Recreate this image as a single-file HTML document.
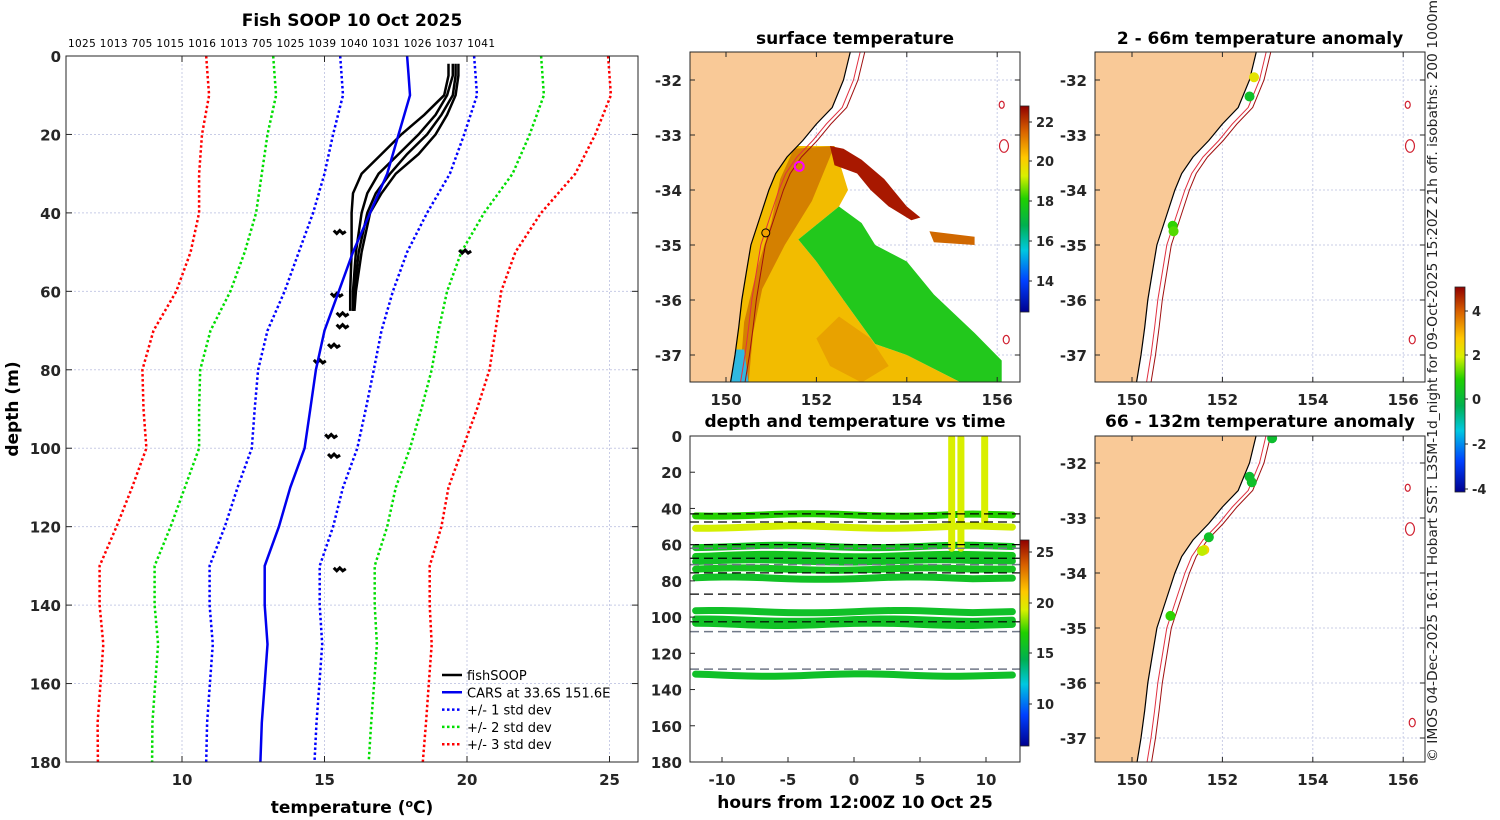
<!DOCTYPE html>
<html><head><meta charset="utf-8"><style>
html,body{margin:0;padding:0;background:#fff}
svg{display:block;font-family:"DejaVu Sans","Liberation Sans",sans-serif}
.t{font-weight:bold;font-size:15px;fill:#262626}
.ti{font-weight:bold;font-size:17px;fill:#000}
</style></head><body>
<svg id="fig" width="1500" height="820" viewBox="0 0 1500 820" xmlns="http://www.w3.org/2000/svg">
<defs>
<linearGradient id="jet" x1="0" y1="1" x2="0" y2="0">
<stop offset="0" stop-color="#00008f"/><stop offset="0.15" stop-color="#0040ff"/><stop offset="0.3" stop-color="#00c8e0"/><stop offset="0.42" stop-color="#00b050"/><stop offset="0.55" stop-color="#20d000"/><stop offset="0.66" stop-color="#d8f000"/><stop offset="0.75" stop-color="#ffc800"/><stop offset="0.88" stop-color="#d86000"/><stop offset="1" stop-color="#900000"/>
</linearGradient>
<clipPath id="cm"><rect x="690" y="52" width="330" height="330"/></clipPath>
<clipPath id="cr1"><rect x="1095" y="52" width="330" height="330"/></clipPath>
<clipPath id="cr2"><rect x="1095" y="436" width="330" height="326"/></clipPath>
<clipPath id="ct"><rect x="690" y="436" width="330" height="326"/></clipPath>
</defs>
<g id="root"></g>
<text transform="translate(1437,762) rotate(-90)" font-size="13" fill="#222" textLength="762" lengthAdjust="spacingAndGlyphs">© IMOS 04-Dec-2025 16:11 Hobart SST: L3SM-1d_night for 09-Oct-2025 15:20Z 21h off. isobaths: 200  1000m</text>
</svg>
<script>
// ---------- profile data ----------
const carsDepth=[0,5,10,20,30,40,50,60,70,80,90,100,110,120,130,140,150,160,170,180];
const carsMean=[17.9,17.95,18.0,17.6,17.2,16.6,16.0,15.5,15.0,14.7,14.5,14.3,13.8,13.4,12.9,12.9,13.0,12.9,12.8,12.75];
const carsSd=[2.35,2.35,2.35,2.3,2.2,2.0,1.9,1.9,2.0,2.03,1.95,1.85,1.85,1.9,1.93,1.93,1.92,1.92,1.92,1.9];
const fishDepth=[2,5,10,15,20,25,30,35,40,50,60,65];
const fishT1=[19.35,19.35,19.2,18.5,17.7,17.0,16.3,16.0,15.95,15.95,15.9,15.9];
const fishT2=[19.5,19.5,19.3,18.9,18.3,17.6,16.9,16.5,16.3,16.1,16.0,16.0];
const fishT3=[19.6,19.6,19.5,19.1,18.6,17.9,17.3,16.8,16.5,16.2,16.05,16.0];
const fishT4=[19.7,19.7,19.6,19.3,18.9,18.3,17.5,17.0,16.6,16.3,16.1,16.05];
const blobT=[15.5,19.9,15.4,15.6,15.6,15.3,14.8,15.2,15.3,15.5];
const blobD=[45,50,61,66,69,74,78,97,102,131];
const tempTicks=[10,15,20,25];
const depthTicks=[0,20,40,60,80,100,120,140,160,180];
const topLabels=["1025","1013","705","1015","1016","1013","705","1025","1039","1040","1031","1026","1037","1041"];
// ---------- time-depth data ----------
const bandDepth=[43.6,50.3,61,66,69,73.5,78.5,97,101.7,104,132];
const bandTemp=[17.5,19.5,16.5,16.5,16.3,16.5,16.3,16.2,16.2,16.3,16.2];
const dashBlack=[43,47.5,60,67.5,75.6,87.3,102.6];
const dashGray=[62,71,108,128.7];
const vertHour=[7.4,8.1,9.9];
const vertBottom=[62,62,47];
const hourTicks=[-10,-5,0,5,10];
// ---------- map data ----------
const coastLon=[152.75,152.6,152.35,152.0,151.7,151.35,151.1,150.95,150.75,150.55,150.45,150.35,150.28,150.2,150.1];
const coastLat=[-31.49,-32,-32.5,-32.8,-33.1,-33.4,-33.7,-34.0,-34.5,-35.0,-35.5,-36.0,-36.5,-37.0,-37.5];
const lonTicks=[150,152,154,156];
const latTicks=[-32,-33,-34,-35,-36,-37];
const dotLon1=[152.7,152.6,150.9,150.92];
const dotLat1=[-31.95,-32.3,-34.65,-34.75];
const dotVal1=[2.2,0.3,1.0,1.2];
const dotLon2=[153.1,152.6,152.65,151.7,151.6,151.55,150.85];
const dotLat2=[-31.55,-32.25,-32.35,-33.35,-33.58,-33.6,-34.78];
const dotVal2=[0.2,0.2,0.3,0.3,2.5,1.8,1.0];

const NS="http://www.w3.org/2000/svg";
const root=document.getElementById('root');
function el(tag,attrs,parent,txt){const e=document.createElementNS(NS,tag);for(const k in attrs)e.setAttribute(k,attrs[k]);if(txt!==undefined)e.textContent=txt;(parent||root).appendChild(e);return e;}
function jet(f){f=Math.max(0,Math.min(1,f));const st=[[0,[0,0,143]],[0.15,[0,64,255]],[0.3,[0,200,224]],[0.42,[0,176,80]],[0.55,[32,208,0]],[0.66,[216,240,0]],[0.75,[255,200,0]],[0.88,[216,96,0]],[1,[144,0,0]]];for(let i=1;i<st.length;i++){if(f<=st[i][0]){const a=st[i-1],b=st[i],t=(f-a[0])/(b[0]-a[0]);return 'rgb('+a[1].map((v,j)=>Math.round(v+(b[1][j]-v)*t)).join(',')+')';}}return 'rgb(144,0,0)';}

// ===== Left panel =====
const L={x0:66,x1:638,y0:56,y1:762};
const tx=t=>-103+t*28.5, dy=d=>L.y0+d*(L.y1-L.y0)/180;
const gL=el('g',{});  
tempTicks.forEach(t=>{const l=el('line',{x1:tx(t),x2:tx(t),y1:L.y0,y2:L.y1,stroke:'#c8cce6','stroke-dasharray':'2,2','stroke-width':1},gL);});
depthTicks.forEach(d=>{const l=el('line',{x1:L.x0,x2:L.x1,y1:dy(d),y2:dy(d),stroke:'#c8cce6','stroke-dasharray':'2,2','stroke-width':1},gL);});
function profPath(dep,vals){return dep.map((d,i)=>(i?'L':'M')+tx(vals[i]).toFixed(1)+','+dy(d).toFixed(1)).join('');}
const sdCols=['#0000ff','#00dd00','#ff0000'];
[3,2,1].forEach(k=>{[-1,1].forEach(s=>{const v=carsMean.map((m,i)=>m+s*k*carsSd[i]);const p=el('path',{d:profPath(carsDepth,v),fill:'none',stroke:sdCols[k-1],'stroke-width':2.5,'stroke-dasharray':'2.5,2.5'},gL);});});
[fishT1,fishT2,fishT3,fishT4].forEach((f,i)=>{const p=el('path',{d:profPath(fishDepth,f),fill:'none',stroke:'#000','stroke-width':2.5},gL);});
blobT.forEach((t,i)=>{const x=tx(t),y=dy(blobD[i]);const p=el('path',{d:`M${x-5},${y-2}l3,3l3,-3l3,3l3,-2`,fill:'none',stroke:'#000','stroke-width':3},gL);});
{const p=el('path',{d:profPath(carsDepth,carsMean),fill:'none',stroke:'#0000ee','stroke-width':2.5},gL);}
{const r=el('rect',{x:L.x0,y:L.y0,width:L.x1-L.x0,height:L.y1-L.y0,fill:'none',stroke:'#262626','stroke-width':1},gL);}
tempTicks.forEach(t=>{el('line',{x1:tx(t),x2:tx(t),y1:L.y1,y2:L.y1-6,stroke:'#262626'},gL);el('line',{x1:tx(t),x2:tx(t),y1:L.y0,y2:L.y0+6,stroke:'#262626'},gL);const e=el('text',{x:tx(t),y:L.y1+23,'text-anchor':'middle',class:'t'},gL,String(t));});
depthTicks.forEach(d=>{el('line',{x1:L.x0,x2:L.x0+6,y1:dy(d),y2:dy(d),stroke:'#262626'},gL);el('line',{x1:L.x1,x2:L.x1-6,y1:dy(d),y2:dy(d),stroke:'#262626'},gL);const e=el('text',{x:L.x0-5,y:dy(d)+6,'text-anchor':'end',class:'t'},gL,String(d));});
{const e=el('text',{x:68,y:47,'font-size':10.5,fill:'#000',textLength:427,lengthAdjust:'spacing'},gL,topLabels.join(' '));}
{const e=el('text',{x:352,y:26,'text-anchor':'middle',class:'ti'},gL,'Fish SOOP 10 Oct 2025');}
{const e=el('text',{x:352,y:813,'text-anchor':'middle',class:'ti'},gL);e.innerHTML='temperature (<tspan dy="-6" font-size="11">o</tspan><tspan dy="6">C)</tspan>';}
{const e=el('text',{transform:'translate(18,409) rotate(-90)','text-anchor':'middle',class:'ti'},gL,'depth (m)');}
const legItems=[['fishSOOP','#000',''],['CARS at 33.6S 151.6E','#0000ee',''],['+/- 1 std dev','#0000ff','2.5,2.5'],['+/- 2 std dev','#00dd00','2.5,2.5'],['+/- 3 std dev','#ff0000','2.5,2.5']];
legItems.forEach((it,i)=>{const g=el('g',{},gL);const y=675+i*17.3;el('line',{x1:442,x2:462,y1:y,y2:y,stroke:it[1],'stroke-width':2.5,'stroke-dasharray':it[2]||'none'},g);el('text',{x:467,y:y+5,'font-size':13,fill:'#000'},g,it[0]);});

// ===== map helpers =====
function mkMap(ox,oy,w,h,lon150x,lat32y,clip,name){
  const fx=lon=>lon150x+(lon-150)*45.2, fy=lat=>lat32y+(-32-lat)*55;
  const g=el('g',{});
  const gc=el('g',{'clip-path':'url(#'+clip+')'},g);
  return {g,gc,fx,fy,ox,oy,w,h};
}
function coastPts(m,off,from){let s='';coastLon.forEach((lo,i)=>{if(coastLat[i]>from)return;s+=(s?'L':'M')+m.fx(lo+off).toFixed(1)+','+m.fy(coastLat[i]).toFixed(1);});return s;}
function drawCoast(m){
  let d='M'+m.fx(149)+','+m.fy(-31.4);
  coastLon.forEach((lo,i)=>{d+='L'+m.fx(lo).toFixed(1)+','+m.fy(coastLat[i]).toFixed(1);});
  d+='L'+m.fx(149)+','+m.fy(-37.6)+'Z';
  const p=el('path',{d,fill:'#f9c997',stroke:'#000','stroke-width':1.2},m.gc);
  [0.22,0.32].forEach((off,k)=>{const q=el('path',{d:coastPts(m,off,0),fill:'none',stroke:k?'#a01010':'#e03040','stroke-width':1},m.gc);});
  [[156.1,-32.45,2.5],[156.15,-33.2,4.5],[156.2,-36.72,3]].forEach(s=>{const c=el('ellipse',{cx:m.fx(s[0]),cy:m.fy(s[1]),rx:s[2],ry:s[2]*1.4,fill:'none',stroke:'#d02030','stroke-width':1.2},m.gc);});
}
function drawGridAxes(m,lats){
  lonTicks.forEach(lo=>{el('line',{x1:m.fx(lo),x2:m.fx(lo),y1:m.oy,y2:m.oy+m.h,stroke:'#c8cce6','stroke-dasharray':'2,2'},m.gc);});
  lats.forEach(la=>{el('line',{x1:m.ox,x2:m.ox+m.w,y1:m.fy(la),y2:m.fy(la),stroke:'#c8cce6','stroke-dasharray':'2,2'},m.gc);});
}
function drawFrame(m,lats){
  const r=el('rect',{x:m.ox,y:m.oy,width:m.w,height:m.h,fill:'none',stroke:'#262626'},m.g);
  lonTicks.forEach(lo=>{el('line',{x1:m.fx(lo),x2:m.fx(lo),y1:m.oy+m.h,y2:m.oy+m.h-5,stroke:'#262626'},m.g);el('line',{x1:m.fx(lo),x2:m.fx(lo),y1:m.oy,y2:m.oy+5,stroke:'#262626'},m.g);const e=el('text',{x:m.fx(lo),y:m.oy+m.h+23,'text-anchor':'middle',class:'t'},m.g,String(lo));});
  lats.forEach(la=>{el('line',{x1:m.ox,x2:m.ox+5,y1:m.fy(la),y2:m.fy(la),stroke:'#262626'},m.g);el('line',{x1:m.ox+m.w,x2:m.ox+m.w-5,y1:m.fy(la),y2:m.fy(la),stroke:'#262626'},m.g);const e=el('text',{x:m.ox-8,y:m.fy(la)+6,'text-anchor':'end',class:'t'},m.g,String(la));});
}
function poly(m,pts,fill,name){const d=pts.map((p,i)=>(i?'L':'M')+m.fx(p[0]).toFixed(1)+','+m.fy(p[1]).toFixed(1)).join('')+'Z';const p=el('path',{d,fill},m.gc);}

// ===== SST map =====
const M=mkMap(690,52,330,330,726,80,'cm','sst-map');
drawGridAxes(M,latTicks);
poly(M,[[151.5,-33.2],[152.4,-33.2],[152.7,-34.0],[152.5,-34.3],[151.6,-34.9],[152.0,-35.3],[152.6,-36.0],[153.3,-36.8],[154.0,-37.0],[155.2,-37.5],[149.5,-37.5],[149.5,-33.2]],'#f2bc00','sst-warm-region');
poly(M,[[151.6,-34.9],[152.5,-34.3],[153.0,-34.6],[153.3,-35.0],[154.0,-35.3],[154.6,-35.9],[155.5,-36.6],[156.1,-37.1],[156.1,-37.5],[155.2,-37.5],[154.0,-37.0],[153.3,-36.8],[152.6,-36.0],[152.0,-35.3]],'#22c81c','sst-cool-region');
poly(M,[[152.5,-36.3],[153.2,-36.7],[153.6,-37.2],[153.0,-37.5],[152.3,-37.2],[152.0,-36.7]],'#e8a200','sst-warm-eddy');
poly(M,[[151.5,-33.25],[152.4,-33.2],[151.9,-34.2],[151.3,-35.0],[150.8,-35.8],[150.6,-36.6],[150.5,-37.5],[150.3,-37.5],[150.4,-36.4],[150.7,-35.4],[151.0,-34.6],[151.2,-33.8]],'#d48000','sst-shelf-warm');
poly(M,[[152.3,-33.2],[152.6,-33.25],[153.0,-33.45],[153.5,-33.8],[154.0,-34.3],[154.3,-34.5],[154.1,-34.55],[153.6,-34.3],[153.2,-34.0],[152.9,-33.7],[152.4,-33.55]],'#a81800','sst-warm-filament');
poly(M,[[154.5,-34.75],[155.5,-34.85],[155.5,-35.0],[154.6,-34.95]],'#d06800','sst-filament-tail');
poly(M,[[150.0,-37.5],[150.1,-36.9],[150.4,-36.9],[150.5,-37.5]],'#30b8e0','sst-cold-patch');
drawCoast(M);
{const c=el('circle',{cx:M.fx(151.62),cy:M.fy(-33.57),r:4.5,fill:'none',stroke:'#ff00ff','stroke-width':2},M.gc);}
{const c=el('circle',{cx:M.fx(150.88),cy:M.fy(-34.78),r:4,fill:'#f0a000',stroke:'#000','stroke-width':1},M.gc);}
drawFrame(M,latTicks);
{const e=el('text',{x:855,y:44,'text-anchor':'middle',class:'ti'},M.g,'surface temperature');}
function colorbar(x,y,w,h,ticks,ys,name){const g=el('g',{});el('rect',{x,y,width:w,height:h,fill:'url(#jet)',stroke:'#262626','stroke-width':0.8},g);ticks.forEach((t,i)=>{el('line',{x1:x+w,x2:x+w+3,y1:ys[i],y2:ys[i],stroke:'#262626'},g);const e=el('text',{x:x+w+7,y:ys[i]+5,'font-size':13,'font-weight':'bold',fill:'#262626'},g,String(t));});}
colorbar(1020,106,9,206,[22,20,18,16,14],[122,161,201,241,281],'sst-colorbar');

// ===== time-depth panel =====
const T={x0:690,x1:1020,y0:436,y1:762};
const hx=h=>854+h*13.2, tdy=d=>T.y0+d*1.811;
const gT=el('g',{});
const gTc=el('g',{'clip-path':'url(#ct)'},gT);
const tcol=t=>jet((t-7)/(26-7));
bandDepth.forEach((d,i)=>{let p='';for(let h=-12;h<=9.2;h+=1){const y=tdy(d)+Math.sin((h+i)*0.45)*1.2;p+=(p?'L':'M')+hx(h).toFixed(1)+','+y.toFixed(1);}p+='L'+hx(12)+','+tdy(d);const e=el('path',{d:p,fill:'none',stroke:tcol(bandTemp[i]),'stroke-width':7,'stroke-linecap':'round'},gTc);});
vertHour.forEach((h,i)=>{const e=el('line',{x1:hx(h),x2:hx(h),y1:tdy(1),y2:tdy(vertBottom[i]),style:'stroke:'+tcol(19.6),'stroke-width':7,'stroke-linecap':'round'},gTc);});
dashBlack.forEach(d=>{const e=el('line',{x1:T.x0,x2:T.x1,y1:tdy(d),y2:tdy(d),stroke:'#000','stroke-dasharray':'9,5','stroke-width':1.2},gTc);});
dashGray.forEach(d=>{const e=el('line',{x1:T.x0,x2:T.x1,y1:tdy(d),y2:tdy(d),stroke:'#707888','stroke-dasharray':'9,5','stroke-width':1.5},gTc);});
el('rect',{x:T.x0,y:T.y0,width:T.x1-T.x0,height:T.y1-T.y0,fill:'none',stroke:'#262626'},gT);
hourTicks.forEach(h=>{el('line',{x1:hx(h),x2:hx(h),y1:T.y1,y2:T.y1-5,stroke:'#262626'},gT);const e=el('text',{x:hx(h),y:T.y1+23,'text-anchor':'middle',class:'t'},gT,String(h));});
depthTicks.forEach(d=>{el('line',{x1:T.x0,x2:T.x0+5,y1:tdy(d),y2:tdy(d),stroke:'#262626'},gT);const e=el('text',{x:T.x0-8,y:tdy(d)+6,'text-anchor':'end',class:'t'},gT,String(d));});
{const e=el('text',{x:855,y:427,'text-anchor':'middle',class:'ti'},gT,'depth and temperature vs time');}
{const e=el('text',{x:855,y:808,'text-anchor':'middle',class:'ti'},gT,'hours from 12:00Z 10 Oct 25');}
colorbar(1020,540,9,206,[25,20,15,10],[552,603,653,704],'temperature-colorbar');

// ===== anomaly maps =====
const acol=v=>jet((v+4.2)/(5.1+4.2));
const R1=mkMap(1095,52,330,330,1132,80,'cr1','anomaly-map-shallow');
drawGridAxes(R1,latTicks);drawCoast(R1);
dotLon1.forEach((lo,i)=>{const c=el('circle',{cx:R1.fx(lo),cy:R1.fy(dotLat1[i]),r:5,fill:acol(dotVal1[i])},R1.gc);});
drawFrame(R1,latTicks);
{const e=el('text',{x:1260,y:44,'text-anchor':'middle',class:'ti'},R1.g,'2 - 66m temperature anomaly');}
const R2=mkMap(1095,436,330,326,1132,463,'cr2','anomaly-map-deep');
drawGridAxes(R2,latTicks);drawCoast(R2);
dotLon2.forEach((lo,i)=>{const c=el('circle',{cx:R2.fx(lo),cy:R2.fy(dotLat2[i]),r:5,fill:acol(dotVal2[i])},R2.gc);});
drawFrame(R2,latTicks);
{const e=el('text',{x:1260,y:427,'text-anchor':'middle',class:'ti'},R2.g,'66 - 132m temperature anomaly');}
colorbar(1455,287,10,205,[4,2,0,-2,-4],[311,355,399,444,489],'anomaly-colorbar');
</script>
</body></html>
